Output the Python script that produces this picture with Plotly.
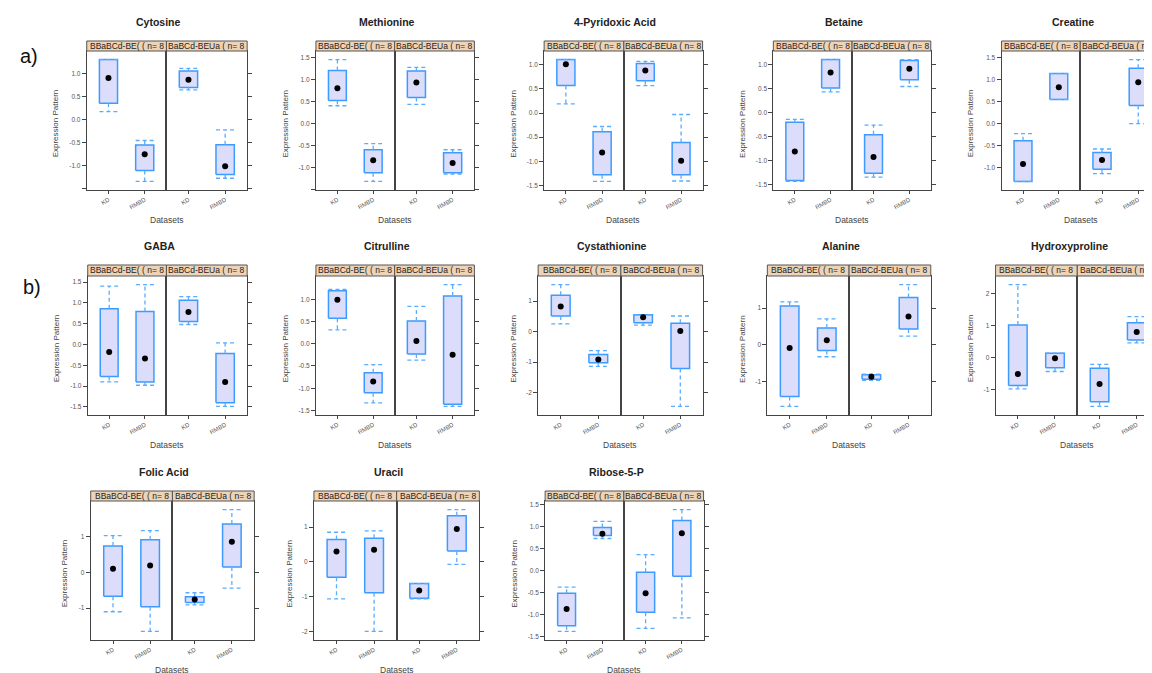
import plotly.graph_objects as go

W, H = 1152, 673

# ---------------- data ----------------
metabolites = ["Cytosine", "Methionine", "4-Pyridoxic Acid", "Betaine", "Creatine",
               "GABA", "Citrulline", "Cystathionine", "Alanine", "Hydroxyproline",
               "Folic Acid", "Uracil", "Ribose-5-P"]
groups = ["KD", "RMBD"]
strip_labels = ["BBaBCd-BE( ( n= 8", "BaBCd-BEUa ( n= 8"]

# each row: [panel1 KD, panel1 RMBD, panel2 KD, panel2 RMBD]
whisker_hi = [
    [1.31, -0.45, 1.12, -0.22], [1.45, -0.46, 1.27, -0.60], [1.11, -0.28, 1.07, -0.03],
    [-0.14, 1.10, -0.26, 1.10], [-0.23, 1.14, -0.58, 1.46], [1.40, 1.44, 1.15, 0.04],
    [1.22, -0.47, 0.84, 1.33], [1.54, -0.62, 0.55, 0.51], [1.17, 0.71, -0.79, 1.64],
    [2.28, 0.14, -0.21, 1.28], [1.02, 1.16, -0.57, 1.75], [0.85, 0.89, -0.62, 1.50],
    [-0.38, 1.12, 0.36, 1.39]]
box_hi = [
    [1.31, -0.55, 1.06, -0.54], [1.20, -0.60, 1.19, -0.67], [1.11, -0.39, 1.03, -0.61],
    [-0.20, 1.10, -0.46, 1.08], [-0.39, 1.14, -0.66, 1.26], [0.86, 0.79, 1.06, -0.22],
    [1.19, -0.65, 0.51, 1.07], [1.19, -0.75, 0.55, 0.27], [1.06, 0.46, -0.81, 1.29],
    [1.02, 0.14, -0.33, 1.09], [0.73, 0.91, -0.68, 1.35], [0.64, 0.68, -0.62, 1.32],
    [-0.52, 0.98, -0.04, 1.14]]
median = [
    [0.91, -0.75, 0.87, -1.01], [0.80, -0.84, 0.93, -0.90], [1.01, -0.82, 0.88, -0.99],
    [-0.81, 0.83, -0.92, 0.91], [-0.92, 0.83, -0.83, 0.94], [-0.18, -0.34, 0.78, -0.90],
    [0.99, -0.85, 0.06, -0.25], [0.82, -0.91, 0.47, 0.02], [-0.08, 0.13, -0.86, 0.77],
    [-0.51, -0.02, -0.82, 0.80], [0.10, 0.19, -0.76, 0.85], [0.30, 0.35, -0.82, 0.94],
    [-0.88, 0.84, -0.52, 0.85]]
box_lo = [
    [0.36, -1.10, 0.70, -1.19], [0.52, -1.12, 0.59, -1.12], [0.57, -1.28, 0.67, -1.28],
    [-1.41, 0.51, -1.26, 0.68], [-1.32, 0.55, -1.04, 0.41], [-0.77, -0.90, 0.55, -1.40],
    [0.57, -1.10, -0.23, -1.36], [0.51, -1.02, 0.29, -1.21], [-1.40, -0.15, -0.93, 0.43],
    [-0.87, -0.31, -1.37, 0.55], [-0.67, -0.96, -0.84, 0.15], [-0.44, -0.88, -1.04, 0.31],
    [-1.26, 0.80, -0.95, -0.13]]
whisker_lo = [
    [0.18, -1.34, 0.65, -1.27], [0.40, -1.32, 0.43, -1.15], [0.19, -1.42, 0.57, -1.41],
    [-1.43, 0.43, -1.34, 0.54], [-1.32, 0.55, -1.14, 0.00], [-0.90, -0.98, 0.48, -1.49],
    [0.31, -1.33, -0.37, -1.41], [0.25, -1.14, 0.21, -2.45], [-1.67, -0.32, -0.96, 0.24],
    [-0.97, -0.43, -1.52, 0.46], [-1.10, -1.65, -0.91, -0.44], [-1.06, -1.99, -1.06, -0.07],
    [-1.39, 0.73, -1.32, -1.08]]

ytick_vals = [
    [-1.5, -1, -0.5, 0, 0.5, 1, 1.5], [-1.5, -1, -0.5, 0, 0.5, 1, 1.5],
    [-1.5, -1, -0.5, 0, 0.5, 1], [-1.5, -1, -0.5, 0, 0.5, 1],
    [-1, -0.5, 0, 0.5, 1, 1.5], [-1.5, -1, -0.5, 0, 0.5, 1, 1.5],
    [-1.5, -1, -0.5, 0, 0.5, 1], [-2, -1, 0, 1], [-1, 0, 1], [-1, 0, 1, 2],
    [-1, 0, 1], [-2, -1, 0, 1], [-1.5, -1, -0.5, 0, 0.5, 1, 1.5]]
ytick_text = [
    ["", "-1.0", "-0.5", "0.0", "0.5", "1.0", ""], ["", "-1.0", "-0.5", "0.0", "0.5", "1.0", "1.5"],
    ["-1.5", "-1.0", "-0.5", "0.0", "0.5", "1.0"], ["-1.5", "-1.0", "-0.5", "0.0", "0.5", "1.0"],
    ["-1.0", "-0.5", "0.0", "0.5", "1.0", "1.5"], ["-1.5", "-1.0", "-0.5", "0.0", "0.5", "1.0", "1.5"],
    ["-1.5", "-1.0", "-0.5", "0.0", "0.5", "1.0"], ["-2", "-1", "0", "1"], ["-1", "0", "1"],
    ["-1", "0", "1", "2"], ["-1", "0", "1"], ["-2", "-1", "0", "1"],
    ["-1.5", "-1.0", "-0.5", "0.0", "0.5", "1.0", "1.5"]]

# ---------------- layout (pixels) ----------------
# x0 (left), xm (divider), x1 (right), strip top, strip bottom, plot bottom, y-title offset
grid = [
    (79, 159, 240, 33, 43, 182, 31), (309, 388, 468, 33, 43, 182, 31),
    (538, 618, 697, 33, 43, 182, 31), (768, 847, 926, 33, 43, 182, 31),
    (997, 1076, 1156, 33, 43, 182, 31),
    (80, 159, 240, 257, 268, 407, 31), (309, 388, 468, 257, 268, 407, 31),
    (532, 615, 697, 257, 268, 407, 25), (762, 844, 926, 257, 268, 407, 25),
    (991, 1073, 1155, 257, 268, 407, 25),
    (83, 165, 247, 483, 493, 632, 26), (307, 390, 473, 483, 493, 632, 25),
    (539, 618, 698, 483, 493, 632, 31)]

FONT = "Liberation Sans, Arial, sans-serif"
BOX_LINE = "#3d9bff"
WHISK = "#5aacff"
FILL = "#dcdcfb"
FRAME = "#444444"
STRIP = "#eed3b6"
HALF = 0.25
XR = (0.4, 2.6)

fig = go.Figure()
lay = {}
ann = []
shapes = []

for i, name in enumerate(metabolites):
    x0, xm, x1, st, sb, yb, yoff = grid[i]
    lo = min(whisker_lo[i]); hi = max(whisker_hi[i]); pad = 0.07 * (hi - lo)
    yr = [lo - pad, hi + pad]
    for p in range(2):
        k = 2 * i + p + 1
        xa = "x" if k == 1 else f"x{k}"
        ya = "y" if k == 1 else f"y{k}"
        left = x0 if p == 0 else xm
        right_full = xm if p == 0 else x1
        right = min(right_full, W)
        frac = (right - left) / (right_full - left)
        xr = [XR[0], XR[0] + (XR[1] - XR[0]) * frac]

        bx, by, wx, wy, mx, my = [], [], [], [], [], []
        for j, pos in enumerate([1, 2]):
            d = 2 * p + j
            bx += [pos - HALF, pos + HALF, pos + HALF, pos - HALF, pos - HALF, None]
            by += [box_lo[i][d], box_lo[i][d], box_hi[i][d], box_hi[i][d], box_lo[i][d], None]
            wx += [pos, pos, None, pos, pos, None,
                   pos - HALF, pos + HALF, None, pos - HALF, pos + HALF, None]
            wy += [box_hi[i][d], whisker_hi[i][d], None, box_lo[i][d], whisker_lo[i][d], None,
                   whisker_hi[i][d], whisker_hi[i][d], None, whisker_lo[i][d], whisker_lo[i][d], None]
            mx.append(pos); my.append(median[i][d])

        fig.add_trace(go.Scatter(x=bx, y=by, mode="lines", fill="toself", fillcolor=FILL,
                                 line=dict(color=BOX_LINE, width=1.5), xaxis=xa, yaxis=ya,
                                 hoverinfo="skip", showlegend=False))
        fig.add_trace(go.Scatter(x=wx, y=wy, mode="lines",
                                 line=dict(color=WHISK, width=1.3, dash="4px,3px"),
                                 xaxis=xa, yaxis=ya, hoverinfo="skip", showlegend=False))
        fig.add_trace(go.Scatter(x=mx, y=my, mode="markers",
                                 marker=dict(color="black", size=6), xaxis=xa, yaxis=ya,
                                 hoverinfo="skip", showlegend=False))

        xkey = "xaxis" if k == 1 else f"xaxis{k}"
        ykey = "yaxis" if k == 1 else f"yaxis{k}"
        lay[xkey] = dict(domain=[left / W, right / W], range=xr, anchor=ya,
                         tickmode="array", tickvals=[1, 2], ticktext=groups, tickangle=-30,
                         tickfont=dict(size=6, color="#555", family=FONT),
                         ticks="outside", ticklen=3, tickcolor=FRAME,
                         showline=True, mirror=True, linecolor=FRAME, linewidth=1,
                         showgrid=False, zeroline=False, fixedrange=True)
        ydict = dict(domain=[1 - yb / H, 1 - sb / H], range=yr, anchor=xa,
                     tickmode="array", tickvals=ytick_vals[i],
                     ticks="outside", ticklen=4, tickcolor=FRAME,
                     showline=True, mirror=True, linecolor=FRAME, linewidth=1,
                     showgrid=False, zeroline=False, fixedrange=True)
        if p == 0:
            ydict.update(side="left", ticktext=ytick_text[i],
                         tickfont=dict(size=6.5, color="#555", family=FONT))
        else:
            ydict.update(side="right", showticklabels=False)
        lay[ykey] = ydict

        # strip
        shapes.append(dict(type="rect", xref="paper", yref="paper",
                           x0=left / W, x1=right_full / W, y0=1 - sb / H, y1=1 - st / H,
                           fillcolor=STRIP, line=dict(color="#555", width=1), layer="above"))
        ann.append(dict(x=(left + right_full) / 2 / W, y=1 - (st + sb) / 2 / H,
                        xref="paper", yref="paper", text=strip_labels[p], showarrow=False,
                        xanchor="center", yanchor="middle",
                        font=dict(size=8.5, color="#222", family=FONT)))

    # title
    ann.append(dict(x=((x0 + x1) / 2 - 8) / W, y=1 - (st - 19) / H, xref="paper", yref="paper",
                    text=f"<b>{name}</b>", showarrow=False, xanchor="center", yanchor="middle",
                    font=dict(size=10.5, color="#222", family=FONT)))
    # x title
    ann.append(dict(x=(x0 + x1) / 2 / W, y=1 - (yb + 30) / H, xref="paper", yref="paper",
                    text="Datasets", showarrow=False, xanchor="center", yanchor="middle",
                    font=dict(size=8.5, color="#444", family=FONT)))
    # y title
    ann.append(dict(x=(x0 - yoff) / W, y=1 - ((sb + yb) / 2 + 3) / H, xref="paper", yref="paper",
                    text="Expression Pattern", showarrow=False, textangle=-90,
                    xanchor="center", yanchor="middle",
                    font=dict(size=8, color="#444", family=FONT)))

ann.append(dict(x=21 / W, y=1 - 48 / H, xref="paper", yref="paper", text="a)", showarrow=False,
                xanchor="center", yanchor="middle", font=dict(size=20, color="#111", family=FONT)))
ann.append(dict(x=24 / W, y=1 - 279 / H, xref="paper", yref="paper", text="b)", showarrow=False,
                xanchor="center", yanchor="middle", font=dict(size=20, color="#111", family=FONT)))

fig.update_layout(width=W, height=H, margin=dict(l=0, r=0, t=0, b=0),
                  paper_bgcolor="white", plot_bgcolor="white",
                  annotations=ann, shapes=shapes, showlegend=False, **lay)

fig.write_html("out.html")
